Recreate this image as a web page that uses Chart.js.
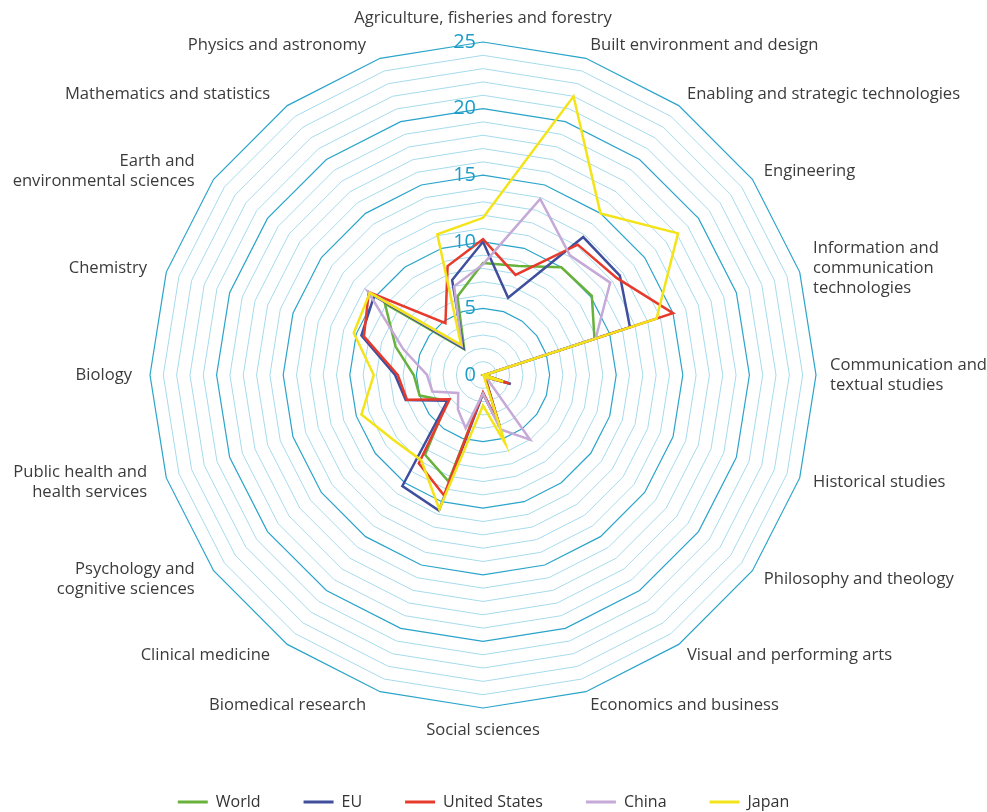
<!DOCTYPE html>
<html>
<head>
<meta charset="utf-8">
<script src="https://cdn.jsdelivr.net/npm/chart.js@4.4.1/dist/chart.umd.min.js"></script>
<style>
    html, body { margin: 0; padding: 0; background: #ffffff; }
    #wrap { width: 987px; height: 812px; position: relative; }
</style>
</head>
<body>
<div id="wrap"><canvas id="myChart"></canvas></div>
<script>
const categories = [
    'Agriculture, fisheries and forestry',
    'Built environment and design',
    'Enabling and strategic technologies',
    'Engineering',
    ['Information and', 'communication', 'technologies'],
    ['Communication and', 'textual studies'],
    'Historical studies',
    'Philosophy and theology',
    'Visual and performing arts',
    'Economics and business',
    'Social sciences',
    'Biomedical research',
    'Clinical medicine',
    ['Psychology and', 'cognitive sciences'],
    ['Public health and', 'health services'],
    'Biology',
    'Chemistry',
    ['Earth and', 'environmental sciences'],
    'Mathematics and statistics',
    'Physics and astronomy'
]

const world = [8.4, 8.6, 10.0, 10.1, 8.8, 0.1, 1.5, 0.3, 0.3, 4.0, 1.4, 8.4, 7.4, 3.3, 5.0, 5.2, 6.9, 9.1, 2.4, 6.2]
const eu = [10.0, 6.1, 12.8, 12.7, 11.6, 0.1, 2.2, 0.3, 0.3, 4.0, 1.4, 10.7, 10.3, 3.3, 6.1, 6.6, 9.6, 10.1, 2.5, 7.5]
const unitedStates = [10.2, 7.9, 12.1, 12.4, 15.0, 0.1, 2.1, 0.3, 0.3, 4.0, 1.3, 9.5, 8.2, 3.1, 6.0, 6.4, 9.4, 10.6, 4.8, 8.6]
const china = [8.3, 13.9, 11.1, 11.8, 8.9, 0.1, 0.8, 0.3, 6.0, 4.3, 1.4, 4.2, 3.2, 2.3, 4.0, 4.2, 6.3, 10.7, 2.7, 7.0]
const japan = [11.8, 22.0, 15.0, 18.1, 13.7, 0.1, 1.6, 0.3, 0.1, 5.4, 2.3, 10.6, 7.9, 8.3, 9.6, 8.2, 10.2, 10.5, 2.8, 11.1]

const tickLabels = [0, 5, 10, 15, 20, 25]

const serie = (label, data, color, order) => ({
    label: label,
    data: data,
    borderColor: color,
    backgroundColor: color,
    borderWidth: 2.5,
    pointRadius: 0,
    pointHoverRadius: 0,
    tension: 0,
    fill: false,
    order: order
})

// ticks and category names drawn next to the axis, like the original
const radarText = {
    id: 'radarText',
    afterDraw: (chart) => {
        const ctx = chart.ctx
        const scale = chart.scales.r
        ctx.save()
        ctx.font = '20px "Open Sans"'
        ctx.fillStyle = '#1e9cc8'
        ctx.textAlign = 'right'
        ctx.textBaseline = 'middle'
        tickLabels.forEach(v => {
            const p = scale.getPointPositionForValue(0, v)
            ctx.fillText(String(v), p.x - 7, p.y)
        })

        ctx.font = '16.6px "Open Sans"'
        ctx.fillStyle = '#3b3b3b'
        const lineHeight = 20
        categories.forEach((label, i) => {
            const lines = Array.isArray(label) ? label : [label]
            const angle = scale.getIndexAngle(i)
            const s = Math.sin(angle)
            const c = Math.cos(angle)
            const p = scale.getPointPosition(i, scale.drawingArea + 14)
            let x = p.x
            let y = p.y
            if (Math.abs(s) < 0.01) {
                ctx.textAlign = 'center'
                y = c > 0 ? p.y - 10 : p.y + 8
            } else if (s > 0) {
                ctx.textAlign = 'left'
            } else {
                ctx.textAlign = 'right'
                x = p.x - 4 - 6 * Math.abs(c)
            }
            const top = y - (lines.length - 1) * lineHeight / 2
            lines.forEach((line, k) => {
                ctx.fillText(line, x, top + k * lineHeight)
            })
        })
        ctx.restore()
    }
}

const ctx = document.getElementById('myChart').getContext('2d')
const myChart = new Chart(ctx, {
    type: 'radar',
    data: {
        labels: categories,
        datasets: [
            serie('World', world, '#68b13a', 5),
            serie('EU', eu, '#3f4f9e', 4),
            serie('United States', unitedStates, '#e63a2c', 3),
            serie('China', china, '#c5a9d7', 2),
            serie('Japan', japan, '#f3e41a', 1)
        ]
    },
    options: {
        responsive: true,
        maintainAspectRatio: false,
        animation: false,
        layout: {
            padding: { top: 42, bottom: -8, left: 0, right: 20 }
        },
        plugins: {
            tooltip: { enabled: false },
            legend: {
                position: 'bottom',
                title: {
                    display: true,
                    text: '',
                    font: { size: 10, lineHeight: 1 },
                    padding: { top: 33, bottom: 0 }
                },
                labels: {
                    boxWidth: 30,
                    boxHeight: 3,
                    padding: 43,
                    color: '#333333',
                    font: { family: 'Open Sans', size: 16 },
                    sort: (a, b) => a.datasetIndex - b.datasetIndex,
                    generateLabels: (chart) => Chart.defaults.plugins.legend.labels.generateLabels(chart)
                        .map(item => Object.assign(item, { lineWidth: 0 }))
                }
            }
        },
        scales: {
            r: {
                min: 0,
                max: 25,
                startAngle: 0,
                ticks: { display: false, stepSize: 1 },
                pointLabels: { display: false },
                angleLines: { display: false },
                grid: {
                    circular: false,
                    lineWidth: (c) => (c.tick && c.tick.value % 5 === 0) ? 1.2 : 1,
                    color: (c) => (c.tick && c.tick.value % 5 === 0) ? '#2aa4ca' : '#a6dbec'
                }
            }
        }
    },
    plugins: [radarText]
})
</script>
</body>
</html>
